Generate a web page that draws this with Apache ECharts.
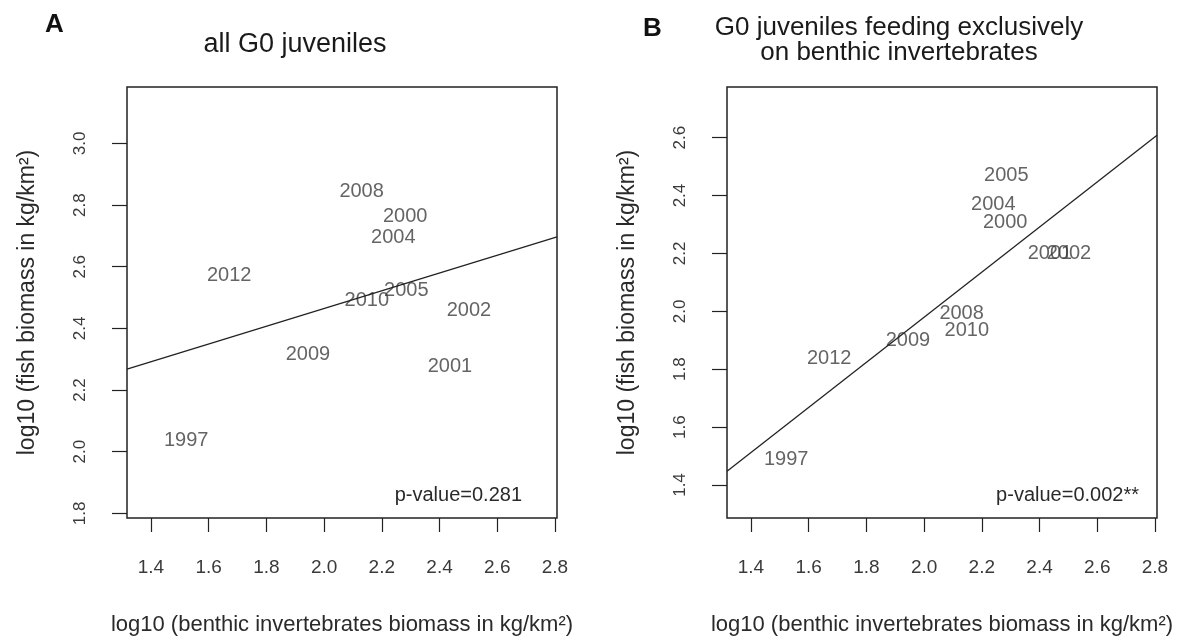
<!DOCTYPE html>
<html>
<head>
<meta charset="utf-8">
<script src="https://cdn.jsdelivr.net/npm/echarts@6/dist/echarts.min.js"></script>
<style>
html,body{margin:0;padding:0;background:#fff;}
#chart{width:1197px;height:642px;}
</style>
</head>
<body>
<div id="chart"></div>
<script>
// ---- data ----
const years = ['1997','2000','2001','2002','2004','2005','2008','2009','2010','2012'];
const benthicBiomass = [1.522, 2.281, 2.436, 2.502, 2.240, 2.285, 2.130, 1.944, 2.148, 1.671];
const fishAllG0 = [2.038, 2.762, 2.275, 2.457, 2.695, 2.524, 2.845, 2.316, 2.492, 2.573];
const fishBenthicFeeders = [1.487, 2.306, 2.200, 2.200, 2.368, 2.471, 1.993, 1.901, 1.933, 1.836];
const fitA = [1.8895, 0.2876];   // intercept, slope
const fitB = [0.4216, 0.7790];
const xTicks = [1.4, 1.6, 1.8, 2.0, 2.2, 2.4, 2.6, 2.8];
const yTicksA = [1.8, 2.0, 2.2, 2.4, 2.6, 2.8, 3.0];
const yTicksB = [1.4, 1.6, 1.8, 2.0, 2.2, 2.4, 2.6];
const xRange = [1.317, 2.807];
const yRangeA = [1.785, 3.183];
const yRangeB = [1.286, 2.775];
const pValueA = 'p-value=0.281';
const pValueB = 'p-value=0.002**';
const xTitle = 'log10 (benthic invertebrates biomass in kg/km²)';
const yTitle = 'log10 (fish biomass in kg/km²)';

const FONT = '"Liberation Sans", Arial, sans-serif';
const chart = echarts.init(document.getElementById('chart'), null, {renderer: 'canvas'});

function xAxisFor(gi) {
  return {
    type: 'value', gridIndex: gi, min: xRange[0], max: xRange[1],
    axisLine: {show: false},
    splitLine: {show: false},
    axisTick: {show: true, inside: false, length: 14, customValues: xTicks, lineStyle: {color: '#222', width: 1.2}},
    axisLabel: {show: true, customValues: xTicks, margin: 40, fontSize: 19, color: '#3a3a3a', fontFamily: FONT,
      formatter: v => v.toFixed(1)},
    name: xTitle, nameLocation: 'middle', nameGap: 96,
    nameTextStyle: {fontSize: 22, color: '#2a2a2a', fontFamily: FONT}
  };
}
function yAxisFor(gi, range, ticks) {
  return {
    type: 'value', gridIndex: gi, min: range[0], max: range[1],
    axisLine: {show: false},
    splitLine: {show: false},
    axisTick: {show: true, inside: false, length: 15, customValues: ticks, lineStyle: {color: '#222', width: 1.2}},
    axisLabel: {show: true, customValues: ticks, margin: 38, rotate: 90, fontSize: 17, color: '#3a3a3a', fontFamily: FONT,
      formatter: v => v.toFixed(1)},
    name: yTitle, nameLocation: 'middle', nameGap: 88, nameRotate: 90,
    nameTextStyle: {fontSize: 23, color: '#2a2a2a', fontFamily: FONT}
  };
}
function points(ys) {
  return years.map((y, i) => ({name: y, value: [benthicBiomass[i], ys[i]]}));
}
function fitLine(fit) {
  return xRange.map(x => [x, fit[0] + fit[1] * x]);
}
const labelStyle = {show: true, position: 'inside', formatter: p => p.name, fontSize: 20, color: '#3d3d3d', fontFamily: FONT};

chart.setOption({
  animation: false,
  backgroundColor: '#fff',
  grid: [
    {left: 127, top: 87, width: 430, height: 431, show: true, borderColor: '#222', borderWidth: 1.5, backgroundColor: 'transparent'},
    {left: 727, top: 87, width: 430, height: 431, show: true, borderColor: '#222', borderWidth: 1.5, backgroundColor: 'transparent'}
  ],
  xAxis: [xAxisFor(0), xAxisFor(1)],
  yAxis: [yAxisFor(0, yRangeA, yTicksA), yAxisFor(1, yRangeB, yTicksB)],
  series: [
    {type: 'scatter', xAxisIndex: 0, yAxisIndex: 0, symbolSize: 0, data: points(fishAllG0), label: labelStyle, emphasis: {disabled: true}, silent: true},
    {type: 'line', xAxisIndex: 0, yAxisIndex: 0, data: fitLine(fitA), symbol: 'none', lineStyle: {color: '#222', width: 1.3}, silent: true},
    {type: 'scatter', xAxisIndex: 1, yAxisIndex: 1, symbolSize: 0, data: points(fishBenthicFeeders), label: labelStyle, emphasis: {disabled: true}, silent: true},
    {type: 'line', xAxisIndex: 1, yAxisIndex: 1, data: fitLine(fitB), symbol: 'none', lineStyle: {color: '#222', width: 1.3}, silent: true}
  ],
  graphic: [
    {type: 'text', left: 45, top: 12, style: {text: 'A', font: 'bold 26px ' + FONT, fill: '#111'}},
    {type: 'text', x: 295, y: 45, style: {text: 'all G0 juveniles', font: '27px ' + FONT, fill: '#1a1a1a', textAlign: 'center', textVerticalAlign: 'middle'}},
    {type: 'text', left: 643, top: 16, style: {text: 'B', font: 'bold 26px ' + FONT, fill: '#111'}},
    {type: 'text', x: 899, y: 28, style: {text: 'G0 juveniles feeding exclusively', font: '26px ' + FONT, fill: '#1a1a1a', textAlign: 'center', textVerticalAlign: 'middle'}},
    {type: 'text', x: 899, y: 53, style: {text: 'on benthic invertebrates', font: '26px ' + FONT, fill: '#1a1a1a', textAlign: 'center', textVerticalAlign: 'middle'}},
    {type: 'text', x: 522, y: 495, style: {text: pValueA, font: '20px ' + FONT, fill: '#2a2a2a', textAlign: 'right', textVerticalAlign: 'middle'}},
    {type: 'text', x: 1139, y: 495, style: {text: pValueB, font: '20px ' + FONT, fill: '#2a2a2a', textAlign: 'right', textVerticalAlign: 'middle'}}
  ]
});
</script>
</body>
</html>
